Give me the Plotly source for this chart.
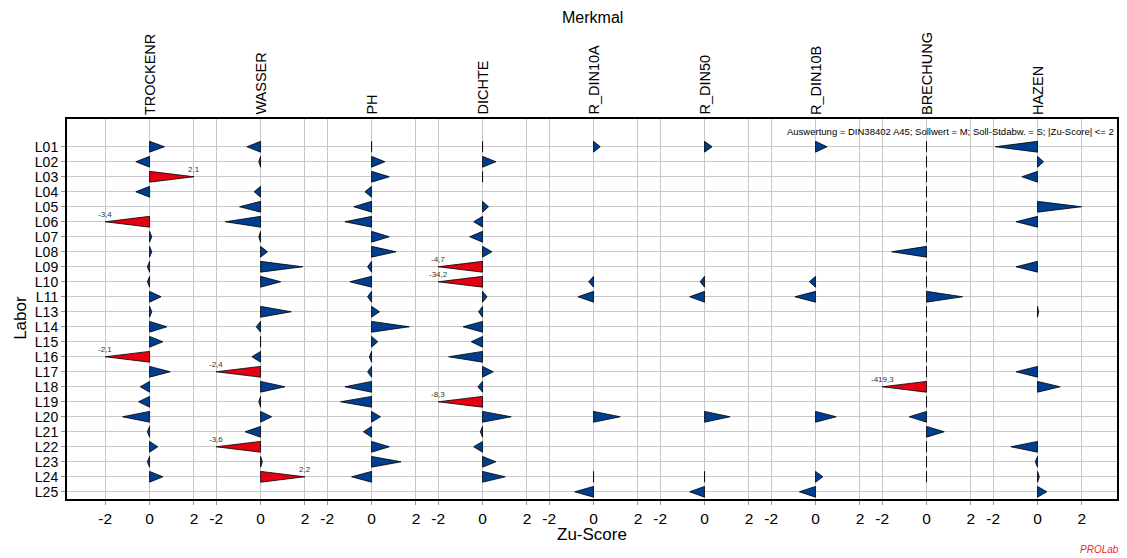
import plotly.graph_objects as go

labs = ["L01", "L02", "L03", "L04", "L05", "L06", "L07", "L08", "L09", "L10", "L11",
        "L13", "L14", "L15", "L16", "L17", "L18", "L19", "L20", "L21", "L22", "L23", "L24", "L25"]

merkmale = ["TROCKENR", "WASSER", "PH", "DICHTE", "R_DIN10A", "R_DIN50", "R_DIN10B", "BRECHUNG", "HAZEN"]

N = None
TROCKENR = [0.67, -0.62, 2.1, -0.62, N, -3.4, 0.1, 0.1, -0.1, -0.1, 0.52,
            0.1, 0.78, 0.6, -2.1, 0.93, -0.42, -0.5, -1.22, -0.1, 0.37, -0.1, 0.6, N]
WASSER = [-0.62, -0.08, N, -0.29, -0.95, -1.59, -0.08, 0.31, 1.9, 0.91, N,
          1.38, -0.2, 0.0, -0.39, -2.4, 1.1, -0.08, 0.5, -0.7, -3.6, 0.08, 2.2, N]
PH = [0.0, 0.6, 0.8, -0.3, -0.8, -1.2, 0.8, 1.1, -0.18, -0.98, -0.18,
      0.36, 1.7, 0.28, -0.1, -0.18, -1.2, -1.4, 0.4, -0.37, 0.8, 1.33, -0.9, N]
DICHTE = [0.0, 0.6, 0.0, N, 0.27, -0.4, -0.58, 0.42, -4.7, -34.2, 0.2,
          -0.18, -0.88, -0.51, -1.53, 0.48, -0.21, -8.3, 1.29, -0.1, -0.4, 0.6, 1.02, N]
R_DIN10A = [0.3, N, N, N, N, N, N, N, N, -0.22, -0.7,
            N, N, N, N, N, N, N, 1.2, N, N, N, 0.0, -0.85]
R_DIN50 = [0.34, N, N, N, N, N, N, N, N, -0.2, -0.67,
           N, N, N, N, N, N, N, 1.15, N, N, N, 0.0, -0.67]
R_DIN10B = [0.52, N, N, N, N, N, N, N, N, -0.28, -0.93,
            N, N, N, N, N, N, N, 0.93, N, N, N, 0.33, -0.73]
BRECHUNG = [0.0, 0.0, 0.0, 0.0, 0.0, 0.0, 0.0, -1.57, 0.0, 0.0, 1.62,
            0.0, 0.0, 0.0, 0.0, 0.0, -419.3, 0.0, -0.78, 0.8, 0.0, 0.0, 0.0, N]
HAZEN = [-1.9, 0.27, -0.7, N, 1.98, -0.97, N, N, -0.97, N, N,
         0.05, N, N, N, -0.97, 1.02, N, N, N, -1.2, -0.1, 0.08, 0.42]

series = [TROCKENR, WASSER, PH, DICHTE, R_DIN10A, R_DIN50, R_DIN10B, BRECHUNG, HAZEN]

LIMIT = 2.0
SPACING = 5.0
HALF = 0.36
BLUE = "rgb(0,62,143)"
RED = "rgb(228,0,18)"
FONT = "Liberation Sans, Arial, sans-serif"

bx, by, rx, ry = [], [], [], []
annotations = []
for i, vals in enumerate(series):
    x0 = i * SPACING
    for r, v in enumerate(vals):
        if v is None:
            continue
        zc = max(-LIMIT, min(LIMIT, v))
        xs = [x0, x0 + zc, x0, x0, None]
        ys = [r - HALF, r, r + HALF, r - HALF, None]
        if abs(v) > LIMIT:
            rx += xs
            ry += ys
            annotations.append(dict(
                x=x0 + zc, y=r, xref="x", yref="y", showarrow=False,
                text=("%.1f" % v).replace(".", ","), yshift=7,
                font=dict(size=8, color="#333333", family=FONT)))
        else:
            bx += xs
            by += ys

fig = go.Figure()
fig.add_trace(go.Scatter(x=bx, y=by, mode="lines", fill="toself", fillcolor=BLUE,
                         line=dict(color="black", width=0.8), hoverinfo="skip", showlegend=False))
fig.add_trace(go.Scatter(x=rx, y=ry, mode="lines", fill="toself", fillcolor=RED,
                         line=dict(color="black", width=0.8), hoverinfo="skip", showlegend=False))

tickvals, ticktext = [], []
for i in range(len(merkmale)):
    for t in (-2, 0, 2):
        tickvals.append(i * SPACING + t)
        ticktext.append(str(t))

for i, m in enumerate(merkmale):
    annotations.append(dict(x=i * SPACING, y=1, xref="x", yref="paper", text=m,
                            textangle=-90, showarrow=False, xanchor="center", yanchor="bottom",
                            yshift=2, font=dict(size=14.5, color="black", family=FONT)))

annotations += [
    dict(x=0.5, y=1.266, xref="paper", yref="paper", text="Merkmal", showarrow=False,
         xanchor="center", yanchor="middle", font=dict(size=16, color="black", family=FONT)),
    dict(x=0.5, y=-0.094, xref="paper", yref="paper", text="Zu-Score", showarrow=False,
         xanchor="center", yanchor="middle", font=dict(size=17, color="black", family=FONT)),
    dict(x=-0.045, y=0.476, xref="paper", yref="paper", text="Labor", showarrow=False,
         textangle=-90, xanchor="center", yanchor="middle",
         font=dict(size=17, color="black", family=FONT)),
    dict(x=0.999, y=0.968, xref="paper", yref="paper",
         text="Auswertung = DIN38402 A45; Sollwert = M; Soll-Stdabw. = S; |Zu-Score| <= 2",
         showarrow=False, xanchor="right", yanchor="middle",
         font=dict(size=9.5, color="black", family=FONT)),
    dict(x=1.0035, y=-0.134, xref="paper", yref="paper", text="<i>PROLab</i>", showarrow=False,
         xanchor="right", yanchor="middle", font=dict(size=10, color="rgb(235,40,40)", family=FONT)),
]

fig.update_layout(
    width=1127, height=558,
    margin=dict(l=67, r=8, t=119, b=59),
    paper_bgcolor="white", plot_bgcolor="white",
    annotations=annotations,
    font=dict(family=FONT, color="black"),
    xaxis=dict(range=[-3.72, 43.58], tickvals=tickvals, ticktext=ticktext,
               showgrid=True, gridcolor="rgb(200,200,200)", gridwidth=1, zeroline=False,
               showline=True, linecolor="black", linewidth=2, mirror=True,
               ticks="outside", ticklen=4, tickcolor="rgb(150,150,150)",
               tickfont=dict(size=15.5, family=FONT, color="black")),
    yaxis=dict(range=[23.48, -1.85], tickvals=list(range(len(labs))), ticktext=labs,
               showgrid=True, gridcolor="rgb(200,200,200)", gridwidth=1, zeroline=False,
               showline=True, linecolor="black", linewidth=2, mirror=True,
               ticks="outside", ticklen=4, tickcolor="rgb(150,150,150)",
               tickfont=dict(size=14, family=FONT, color="black")),
)

fig.write_html("out.html", config={"displayModeBar": False},
               post_script="document.body.style.margin='0px';document.body.style.padding='0px';")
